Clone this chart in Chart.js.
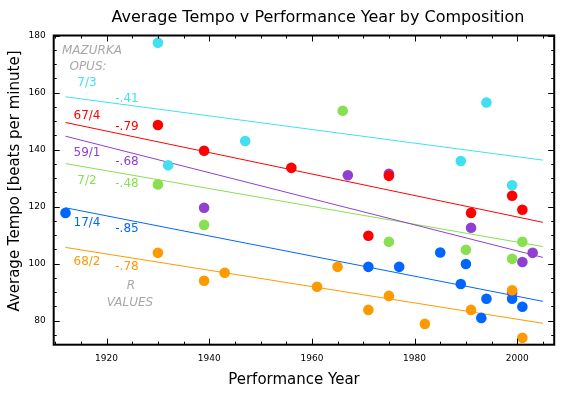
<!DOCTYPE html>
<html>
<head>
<meta charset="utf-8">
<script src="https://cdn.jsdelivr.net/npm/chart.js@4"></script>
<style>
html, body { margin: 0; padding: 0; background: #fff; }
</style>
</head>
<body>
<canvas id="tempoChart" width="586" height="395"></canvas>
<script>
// mazurka opus numbers and their R values
const compositions = ['7/3', '67/4', '59/1', '7/2', '17/4', '68/2'];
const rValues = ['-.41', '-.79', '-.68', '-.48', '-.85', '-.78'];

// performance year / average tempo for each opus
const years7_3 = [1930, 1932, 1947, 1989, 1994, 1999];
const tempo7_3 = [177.5, 134.5, 143, 136, 156.5, 127.5];

const years67_4 = [1930, 1939, 1956, 1971, 1975, 1991, 1999, 2001];
const tempo67_4 = [148.6, 139.6, 133.6, 109.8, 130.8, 117.8, 123.8, 118.9];

const years59_1 = [1939, 1967, 1975, 1991, 1999, 2001, 2003];
const tempo59_1 = [119.6, 131, 131.5, 112.6, 89.8, 100.6, 103.8];

const years7_2 = [1930, 1939, 1966, 1975, 1990, 1999, 2001];
const tempo7_2 = [127.8, 113.6, 153.6, 107.7, 104.9, 101.7, 107.7];

const years17_4 = [1912, 1971, 1977, 1985, 1989, 1990, 1993, 1994, 1999, 2001];
const tempo17_4 = [117.8, 98.9, 98.9, 103.9, 92.9, 99.9, 81, 87.7, 87.7, 84.9];

const years68_2 = [1930, 1939, 1943, 1961, 1965, 1971, 1975, 1982, 1991, 1999, 2001];
const tempo68_2 = [103.8, 94, 96.8, 91.9, 98.9, 83.8, 88.7, 78.9, 83.8, 90.7, 74];

// trend line ends
const trendYears = [1912, 2005];
const trend7_3 = [158.5, 136.3];
const trend67_4 = [149.5, 114.5];
const trend59_1 = [144.7, 102.2];
const trend7_2 = [135.1, 106.0];
const trend17_4 = [119.6, 86.8];
const trend68_2 = [105.7, 79.1];

// tick labels
const xTickLabels = [1920, 1940, 1960, 1980, 2000];
const yTickLabels = [80, 100, 120, 140, 160, 180];

const colors = ['#40e0f0', '#ff0000', '#9040d0', '#88e050', '#0066ff', '#ff9900'];
const pointSets = [
    [years7_3, tempo7_3], [years67_4, tempo67_4], [years59_1, tempo59_1],
    [years7_2, tempo7_2], [years17_4, tempo17_4], [years68_2, tempo68_2]
];
const trendSets = [trend7_3, trend67_4, trend59_1, trend7_2, trend17_4, trend68_2];

// which dataset is drawn on top (lower = on top)
const pointOrder = [6, 2, 5, 4, 3, 1];

const toXY = (xs, ys) => xs.map((v, i) => ({ x: v, y: ys[i] }));

const datasets = [];
trendSets.forEach((t, i) => {
    datasets.push({
        label: compositions[i] + ' trend',
        data: toXY(trendYears, t),
        showLine: true,
        borderColor: colors[i],
        borderWidth: 1,
        pointRadius: 0,
        fill: false,
        order: 20 + i
    });
});
pointSets.forEach(([xs, ys], i) => {
    datasets.push({
        label: compositions[i],
        data: toXY(xs, ys),
        backgroundColor: colors[i],
        borderColor: colors[i],
        borderWidth: 0,
        pointRadius: 5.3,
        order: pointOrder[i]
    });
});

// frame, inward ticks, titles and the side notes
const decorPlugin = {
    id: 'decor',
    afterDatasetsDraw(chart) {
        const { ctx, chartArea: a, scales: { x, y } } = chart;
        ctx.save();
        ctx.strokeStyle = '#000';
        ctx.lineWidth = 1;
        ctx.beginPath();
        for (let v = 1910; v <= 2005; v += 5) {
            const px = Math.round(x.getPixelForValue(v)) + 0.5;
            const len = v % 20 === 0 ? 6 : 3;
            ctx.moveTo(px, a.bottom); ctx.lineTo(px, a.bottom - len);
            ctx.moveTo(px, a.top); ctx.lineTo(px, a.top + len);
        }
        for (let v = 75; v <= 180; v += 5) {
            const py = Math.round(y.getPixelForValue(v)) + 0.5;
            const len = v % 20 === 0 ? 6 : 3;
            ctx.moveTo(a.left, py); ctx.lineTo(a.left + len, py);
            ctx.moveTo(a.right, py); ctx.lineTo(a.right - len, py);
        }
        ctx.stroke();
        ctx.lineWidth = 2;
        ctx.strokeRect(a.left, a.top, a.right - a.left, a.bottom - a.top);
        ctx.restore();
    },
    afterDraw(chart) {
        const ctx = chart.ctx;
        ctx.save();
        ctx.textAlign = 'center';
        ctx.textBaseline = 'middle';
        ctx.fillStyle = '#000';
        ctx.font = '16px "DejaVu Sans"';
        ctx.fillText('Average Tempo v Performance Year by Composition', 318, 18);

        ctx.font = '15px "DejaVu Sans"';
        ctx.fillText('Performance Year', 294, 380);
        ctx.save();
        ctx.translate(15, 181);
        ctx.rotate(-Math.PI / 2);
        ctx.fillText('Average Tempo [beats per minute]', 0, 0);
        ctx.restore();

        const gray = '#a8a8a8';
        ctx.font = 'italic 12px "DejaVu Sans"';
        ctx.fillStyle = gray;
        ctx.fillText('MAZURKA', 92, 51);
        ctx.fillText('OPUS:', 88, 67);
        ctx.fillText('R', 131, 286);
        ctx.fillText('VALUES', 130, 303);

        ctx.font = '12px "DejaVu Sans"';
        const nameY = [83, 116, 153, 181, 223, 262];
        const rY = [99, 127, 162, 184, 229, 267];
        compositions.forEach((c, i) => {
            ctx.fillStyle = colors[i];
            ctx.fillText(c, 87, nameY[i]);
            ctx.fillText(rValues[i], 127, rY[i]);
        });
        ctx.restore();
    }
};

new Chart(document.getElementById('tempoChart'), {
    type: 'scatter',
    data: { datasets },
    options: {
        responsive: false,
        animation: false,
        layout: { padding: { top: 35.5, right: 31.8, left: 0, bottom: 0 } },
        plugins: { legend: { display: false }, tooltip: { enabled: false } },
        scales: {
            x: {
                type: 'linear',
                min: 1909.7,
                max: 2007.2,
                afterFit: s => { s.height = 50.3; },
                afterBuildTicks: s => { s.ticks = xTickLabels.map(v => ({ value: v })); },
                grid: { display: false, drawTicks: false },
                border: { display: false },
                ticks: {
                    padding: 9,
                    color: '#000',
                    font: { family: 'DejaVu Sans', size: 9 },
                    callback: v => String(v)
                }
            },
            y: {
                type: 'linear',
                min: 71.6,
                max: 180,
                afterFit: s => { s.width = 53.7; },
                afterBuildTicks: s => { s.ticks = yTickLabels.map(v => ({ value: v })); },
                grid: { display: false, drawTicks: false },
                border: { display: false },
                ticks: {
                    padding: 8,
                    color: '#000',
                    font: { family: 'DejaVu Sans', size: 9 },
                    callback: v => String(v)
                }
            }
        }
    },
    plugins: [decorPlugin]
});
</script>
</body>
</html>
